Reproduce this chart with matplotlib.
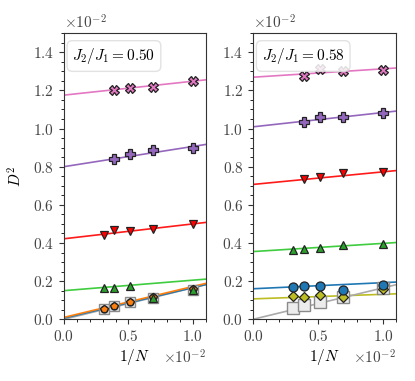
import numpy as np
import matplotlib
matplotlib.use("Agg")
import matplotlib.pyplot as plt
from matplotlib.ticker import MultipleLocator

plt.rcParams["font.family"] = "serif"
plt.rcParams["font.serif"] = ["cmr10"]
plt.rcParams["mathtext.fontset"] = "cm"
plt.rcParams["axes.formatter.use_mathtext"] = True
plt.rcParams["axes.unicode_minus"] = False

# ── data (in units of 1e-2) ────────────────────────────────────────────────
invN = np.array([0.309, 0.391, 0.510, 0.694, 1.000])
invN4 = invN[1:]

# J2/J1 = 0.50
l_pink = [1.20, 1.21, 1.22, 1.25]
l_purple = [0.84, 0.865, 0.885, 0.90]
l_red = [0.444, 0.466, 0.461, 0.475, 0.50]
l_green = [0.163, 0.163, 0.175, 0.110, 0.156]
l_blue = [0.055, 0.070, 0.088, 0.118, 0.160]
l_orange = [0.055, 0.071, 0.090, 0.117, 0.160]
l_gray = [0.055, 0.070, 0.088, 0.113, 0.155]

# J2/J1 = 0.58
r_pink = [1.273, 1.313, 1.304, 1.309]
r_purple = [1.035, 1.058, 1.061, 1.082]
r_red = [0.735, 0.744, 0.765, 0.774]
r_green = [0.365, 0.368, 0.374, 0.391, 0.395]
r_blue = [0.168, 0.177, 0.174, 0.151, 0.180]
r_olive = [0.124, 0.119, 0.128, 0.116, 0.160]
r_gray = [0.058, 0.075, 0.093, 0.116, 0.163]

# linear fits: (intercept, slope)
l_fits = {
    "pink": (1.175, 0.073), "purple": (0.80, 0.106), "red": (0.422, 0.078),
    "green": (0.150, 0.055), "gray": (0.0, 0.165), "blue": (0.006, 0.160),
    "orange": (0.010, 0.162),
}
r_fits = {
    "pink": (1.269, 0.044), "purple": (1.009, 0.075), "red": (0.707, 0.066),
    "green": (0.355, 0.043), "blue": (0.160, 0.032), "olive": (0.107, 0.024),
    "gray": (0.0, 0.165),
}

LINE = {"pink": "#e377c2", "purple": "#9467bd", "red": "#ff1a1a",
        "green": "#3fcc3f", "blue": "#1f77b4", "olive": "#bcbd22",
        "orange": "#ff7f0e", "gray": "#aaaaaa"}
FACE = {"pink": "#e377c2", "purple": "#9467bd", "red": "#ff0000",
        "green": "#2ca02c", "blue": "#1f77b4", "olive": "#bcbd22",
        "orange": "#ff7f0e"}

s = 1e-2
xfit = np.array([0.0, 1.1])

fig = plt.figure(figsize=(4.15, 3.81), dpi=100)
axL = fig.add_axes([0.154, 0.162, 0.342, 0.751])
axR = fig.add_axes([0.610, 0.162, 0.345, 0.751])


def draw_fits(ax, fits):
    for key, (a, b) in fits.items():
        ax.plot(xfit * s, (a + b * xfit) * s, color=LINE[key], lw=1.2, zorder=2)


def pts(ax, x, y, key, marker, ms=6, z=3):
    ax.plot(np.array(x) * s, np.array(y) * s, ls="none", marker=marker, ms=ms,
            mfc=FACE[key], mec="#222222", mew=0.9, zorder=z)


def gray_sq(ax, x, y, ms):
    ax.plot(np.array(x) * s, np.array(y) * s, ls="none", marker="s", ms=ms,
            mfc="#ececec", mec="#8a8a8a", mew=1.0, zorder=3)


# left panel
draw_fits(axL, l_fits)
gray_sq(axL, invN, l_gray, 7.5)
pts(axL, invN, l_blue, "blue", "o", 5, 3.1)
pts(axL, invN, l_orange, "orange", "p", 6, 3.2)
pts(axL, invN, l_green, "green", "^", 6, 3.3)
pts(axL, invN, l_red, "red", "v", 6)
pts(axL, invN4, l_purple, "purple", "P", 7)
pts(axL, invN4, l_pink, "pink", "X", 7)

# right panel
draw_fits(axR, r_fits)
gray_sq(axR, invN, r_gray, 9)
pts(axR, invN, r_olive, "olive", "D", 5.5, 3.1)
pts(axR, invN, r_blue, "blue", "o", 6.5, 3.2)
pts(axR, invN, r_green, "green", "^", 6, 3.3)
pts(axR, invN4, r_red, "red", "v", 6)
pts(axR, invN4, r_purple, "purple", "P", 7)
pts(axR, invN4, r_pink, "pink", "X", 7)

for ax, lab in [(axL, r"$J_2/J_1 = 0.50$"), (axR, r"$J_2/J_1 = 0.58$")]:
    ax.set_xlim(0, 1.1 * s)
    ax.set_ylim(0, 1.5 * s)
    ax.xaxis.set_major_locator(MultipleLocator(0.5 * s))
    ax.xaxis.set_minor_locator(MultipleLocator(0.1 * s))
    ax.yaxis.set_major_locator(MultipleLocator(0.2 * s))
    ax.yaxis.set_minor_locator(MultipleLocator(0.05 * s))
    ax.ticklabel_format(style="sci", scilimits=(0, 0), axis="both")
    ax.tick_params(labelsize=11, colors="#333333", labelcolor="#444444")
    ax.xaxis.get_offset_text().set_fontsize(11)
    ax.yaxis.get_offset_text().set_fontsize(11)
    ax.set_xlabel(r"$1/N$", fontsize=11, labelpad=2)
    for sp in ax.spines.values():
        sp.set_color("#333333")
    ax.text(0.06, 0.955, lab, transform=ax.transAxes, fontsize=11, va="top",
            ha="left", bbox=dict(boxstyle="round,pad=0.35", fc="white",
                                 ec="#dddddd", alpha=0.85))

axL.set_ylabel(r"$D^2$", fontsize=11, labelpad=6)

fig.savefig("out.png", dpi=100)
